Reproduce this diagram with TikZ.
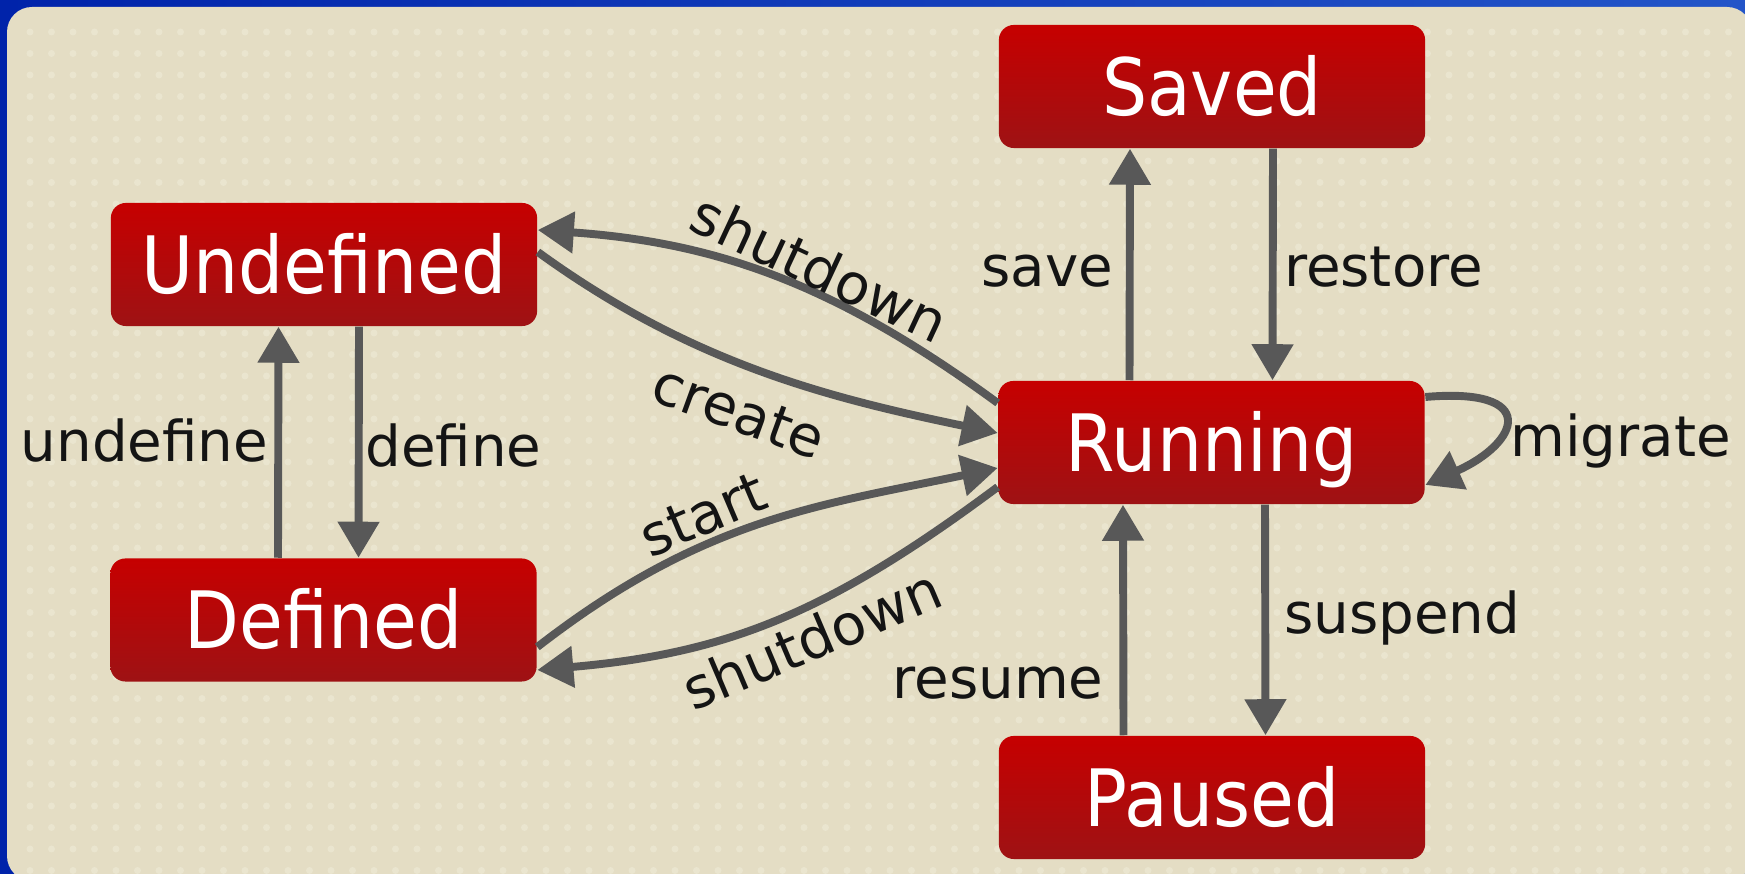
\documentclass[tikz,border=0pt]{standalone}
\usepackage{fontspec}
\usetikzlibrary{arrows.meta,calc}
\newfontfamily\statefont[FakeStretch=0.9]{DejaVu Sans}
\newfontfamily\lblfont{DejaVu Sans}
\definecolor{bluedark}{RGB}{0,35,170}
\definecolor{bluelight}{RGB}{35,85,200}
\definecolor{beige}{RGB}{228,221,196}
\definecolor{dotc}{RGB}{234,229,207}
\definecolor{redtop}{RGB}{198,0,0}
\definecolor{redbot}{RGB}{158,18,20}
\definecolor{edgegray}{RGB}{88,88,88}
\definecolor{lbl}{RGB}{20,20,20}
\begin{document}
\begin{tikzpicture}[x=0.01cm,y=-0.01cm,
  state/.style={rectangle, rounded corners=0.15cm, minimum width=4.26cm, minimum height=1.23cm,
    inner sep=0pt, top color=redtop, bottom color=redbot, draw=none, text=white,
    font=\statefont\fontsize{22.5}{27}\selectfont, text height=16.4pt, text depth=0pt},
  lab/.style={inner sep=0pt, text=lbl, font=\lblfont\fontsize{16}{19}\selectfont},
  conn/.style={draw=edgegray, line width=2.25pt, -{Triangle[length=0.36cm,width=0.40cm]}}]
\useasboundingbox (0,0) rectangle (1745,874);
% background
\fill[left color=bluedark, right color=bluelight] (0,0) rectangle (1745,874);
\fill[beige, rounded corners=0.25cm] (7,7) rectangle (1752,881);
\foreach \i in {0,...,79}{\foreach \j in {0,...,39}{
  \fill[dotc] ({30+21.5*\i},{32+21.5*\j}) circle[radius=0.035cm];}}
% states
\node[state] (U) at (324,264.5) {Undefined};
\node[state] (D) at (323.5,620) {Defined};
\node[state] (S) at (1212,86.5) {Saved};
\node[state] (R) at (1211.5,442.5) {Running};
\node[state] (P) at (1212,797.5) {Paused};
% vertical connectors
\draw[conn] ($(D.north)+(-45.5,0)$) -- ($(U.south)+(-45.5,0)$);
\draw[conn] ($(U.south)+(35,0)$) -- ($(D.north)+(35,0)$);
\draw[conn] ($(R.north)+(-82,0)$) -- ($(S.south)+(-82,0)$);
\draw[conn] ($(S.south)+(61,0)$) -- ($(R.north)+(61,0)$);
\draw[conn] ($(R.south)+(53.5,0)$) -- ($(P.north)+(53.5,0)$);
\draw[conn] ($(P.north)+(-88.5,0)$) -- ($(R.south)+(-88.5,0)$);
% curved connectors
\draw[conn] ($(U.east)+(0,-12.5)$) .. controls ($(U.east)+(154,99.5)$) and ($(R.west)+(-168,-44.5)$) .. ($(R.west)+(0,-9.5)$);
\draw[conn] ($(R.west)+(0,-39.5)$) .. controls ($(R.west)+(-161,-157.5)$) and ($(U.east)+(180,-22)$) .. ($(U.east)+(0,-34.5)$);
\draw[conn] ($(D.east)+(0,27)$) .. controls ($(D.east)+(166.5,-102.3)$) and ($(R.west)+(-178,63)$) .. ($(R.west)+(0,25.5)$);
\draw[conn] ($(R.west)+(0,44.5)$) .. controls ($(R.west)+(-169.7,170.9)$) and ($(D.east)+(190,33.4)$) .. ($(D.east)+(0,50)$);
\draw[conn] ($(R.east)+(0,-45.5)$) .. controls ($(R.east)+(115,-55.5)$) and ($(R.east)+(95,0)$) .. ($(R.east)+(0,42.5)$);
% labels
\node[lab, anchor=base] (lundefine) at (144.5,462) {undefine};
\node[lab, anchor=base] (ldefine) at (453.5,467) {define};
\node[lab, anchor=base] (lsave) at (1047.5,287) {save};
\node[lab, anchor=base] (lrestore) at (1383.5,287) {restore};
\node[lab, anchor=base] (lsuspend) at (1402,634) {suspend};
\node[lab, anchor=base] (lresume) at (998,699) {resume};
\node[lab, anchor=base] (lmigrate) at (1620.5,457) {migrate};
\node[lab, rotate=-25] (lshut1) at (820,268) {shutdown};
\node[lab, rotate=-20] (lcreate) at (739,412) {create};
\node[lab, rotate=23] (lstart) at (703,515) {start};
\node[lab, rotate=23] (lshut2) at (812,639) {shutdown};
\end{tikzpicture}
\end{document}
